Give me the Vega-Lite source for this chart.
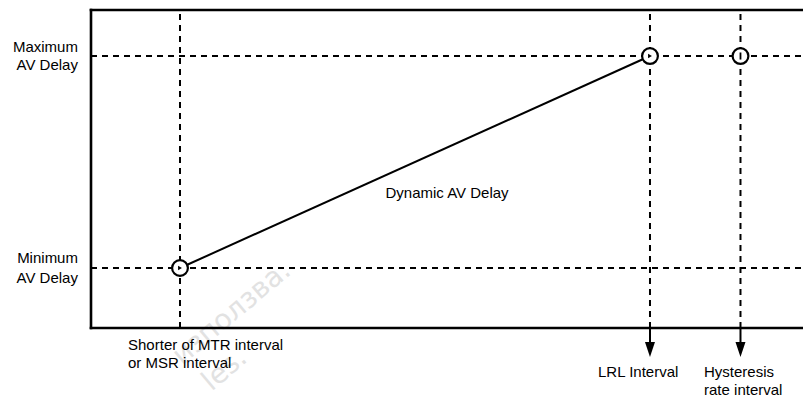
{
  "$schema": "https://vega.github.io/schema/vega-lite/v6.json",
  "width": 712,
  "height": 318,
  "autosize": {"type": "none"},
  "padding": {"left": 91, "top": 10, "right": 0, "bottom": 71},
  "background": "white",
  "config": {"view": {"stroke": null}},
  "datasets": {
    "segments": [
      {"kind": "box", "interval": 0, "delay": 0, "interval2": 102, "delay2": 0},
      {"kind": "box", "interval": 0, "delay": 100, "interval2": 102, "delay2": 100},
      {"kind": "box", "interval": 0, "delay": 0, "interval2": 0, "delay2": 100},
      {"kind": "guide", "interval": 12.5, "delay": 0, "interval2": 12.5, "delay2": 100},
      {"kind": "guide", "interval": 78.51, "delay": 0, "interval2": 78.51, "delay2": 100},
      {"kind": "guide", "interval": 91.22, "delay": 0, "interval2": 91.22, "delay2": 100},
      {"kind": "guide", "interval": 0, "delay": 85.53, "interval2": 100, "delay2": 85.53},
      {"kind": "guide", "interval": 0, "delay": 18.87, "interval2": 100, "delay2": 18.87},
      {"kind": "curve", "interval": 12.5, "delay": 18.87, "interval2": 78.51, "delay2": 85.53},
      {"kind": "arrow", "interval": 78.51, "delay": 0, "interval2": 78.51, "delay2": -7.5},
      {"kind": "arrow", "interval": 91.22, "delay": 0, "interval2": 91.22, "delay2": -7.5}
    ],
    "points": [
      {"kind": "circle", "inner": "tri", "interval": 12.5, "delay": 18.87},
      {"kind": "circle", "inner": "tri", "interval": 78.51, "delay": 85.53},
      {"kind": "circle", "inner": "bar", "interval": 91.22, "delay": 85.53},
      {"kind": "head", "inner": "none", "interval": 78.51, "delay": -6.73},
      {"kind": "head", "inner": "none", "interval": 91.22, "delay": -6.73}
    ],
    "labels": [
      {"group": "left", "label": "Maximum", "interval": -1.83, "delay": 88.46},
      {"group": "left", "label": "AV Delay", "interval": -1.83, "delay": 82.7},
      {"group": "left", "label": "Minimum", "interval": -1.83, "delay": 22.01},
      {"group": "left", "label": "AV Delay", "interval": -1.83, "delay": 15.88},
      {"group": "mid", "label": "Dynamic AV Delay", "interval": 50.0, "delay": 42.55},
      {"group": "bottom", "label": "Shorter of MTR interval", "interval": 5.2, "delay": -5.35},
      {"group": "bottom", "label": "or MSR interval", "interval": 5.2, "delay": -11.01},
      {"group": "bottom", "label": "LRL Interval", "interval": 71.21, "delay": -13.84},
      {"group": "bottom", "label": "Hysteresis", "interval": 86.1, "delay": -13.84},
      {"group": "bottom", "label": "rate interval", "interval": 86.1, "delay": -19.5}
    ],
    "watermark": [
      {"label": "използва.", "interval": 19.8, "delay": 4.6},
      {"label": "les.", "interval": 18.8, "delay": -13.2}
    ]
  },
  "encoding": {
    "x": {"field": "interval", "type": "quantitative", "scale": {"domain": [0, 100], "nice": false, "zero": false}, "axis": null},
    "y": {"field": "delay", "type": "quantitative", "scale": {"domain": [0, 100], "nice": false, "zero": false}, "axis": null}
  },
  "layer": [
    {
      "data": {"name": "watermark"},
      "mark": {"type": "text", "font": "DejaVu Sans", "fontSize": 28, "angle": -40, "align": "center", "baseline": "middle", "color": "#e2e2e2", "clip": false},
      "encoding": {"text": {"field": "label"}}
    },
    {
      "data": {"name": "segments"},
      "transform": [{"filter": "datum.kind === 'guide'"}],
      "mark": {"type": "rule", "color": "black", "strokeWidth": 2, "strokeDash": [6, 5], "clip": false},
      "encoding": {"x2": {"field": "interval2"}, "y2": {"field": "delay2"}}
    },
    {
      "data": {"name": "segments"},
      "transform": [{"filter": "datum.kind === 'curve' || datum.kind === 'arrow'"}],
      "mark": {"type": "rule", "color": "black", "strokeWidth": 2, "clip": false},
      "encoding": {"x2": {"field": "interval2"}, "y2": {"field": "delay2"}}
    },
    {
      "data": {"name": "segments"},
      "transform": [{"filter": "datum.kind === 'box'"}],
      "mark": {"type": "rule", "color": "black", "strokeWidth": 2.6, "strokeCap": "square", "clip": false},
      "encoding": {"x2": {"field": "interval2"}, "y2": {"field": "delay2"}}
    },
    {
      "data": {"name": "points"},
      "transform": [{"filter": "datum.kind === 'circle'"}],
      "mark": {"type": "point", "shape": "circle", "size": 250, "filled": false, "fill": "white", "fillOpacity": 1, "stroke": "black", "strokeWidth": 2.2, "opacity": 1, "clip": false}
    },
    {
      "data": {"name": "points"},
      "transform": [{"filter": "datum.inner === 'tri'"}],
      "mark": {"type": "point", "shape": "triangle-right", "size": 20, "filled": true, "color": "black", "opacity": 1}
    },
    {
      "data": {"name": "points"},
      "transform": [{"filter": "datum.inner === 'bar'"}],
      "mark": {"type": "point", "shape": "M0,-1L0,1", "size": 50, "filled": false, "stroke": "black", "strokeWidth": 1.8, "opacity": 1}
    },
    {
      "data": {"name": "points"},
      "transform": [{"filter": "datum.kind === 'head'"}],
      "mark": {"type": "point", "shape": "M-1,-1.5L1,-1.5L0,1.5Z", "size": 100, "filled": true, "color": "black", "opacity": 1, "clip": false}
    },
    {
      "data": {"name": "labels"},
      "transform": [{"filter": "datum.group === 'left'"}],
      "mark": {"type": "text", "font": "Liberation Sans", "fontSize": 15, "align": "right", "baseline": "middle", "color": "black", "clip": false},
      "encoding": {"text": {"field": "label"}}
    },
    {
      "data": {"name": "labels"},
      "transform": [{"filter": "datum.group === 'mid'"}],
      "mark": {"type": "text", "font": "Liberation Sans", "fontSize": 15, "align": "center", "baseline": "middle", "color": "black", "clip": false},
      "encoding": {"text": {"field": "label"}}
    },
    {
      "data": {"name": "labels"},
      "transform": [{"filter": "datum.group === 'bottom'"}],
      "mark": {"type": "text", "font": "Liberation Sans", "fontSize": 15, "align": "left", "baseline": "middle", "color": "black", "clip": false},
      "encoding": {"text": {"field": "label"}}
    }
  ]
}
